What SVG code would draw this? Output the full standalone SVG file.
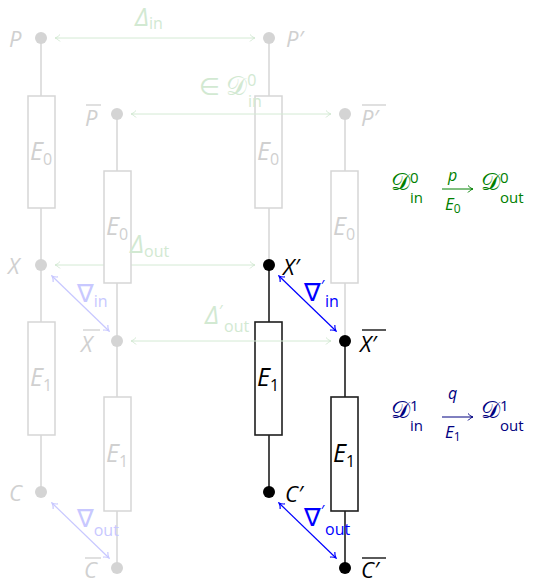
<svg xmlns="http://www.w3.org/2000/svg" width="538" height="579" viewBox="0 0 538 579">
<defs>
<style>
.fl{stroke:#d6d6d6;stroke-width:1.5;fill:none}
.fb{stroke:#d6d6d6;stroke-width:1.5;fill:#fff}
.bl{stroke:#1f1f1f;stroke-width:1.6;fill:none}
.bb{stroke:#1f1f1f;stroke-width:1.6;fill:#fff}
.fd{fill:#d4d4d4}
.bd{fill:#000}
.ga{stroke:#d4ead4;stroke-width:1;fill:none;marker-start:url(#hg);marker-end:url(#hg)}
.fba{stroke:#c8c8ff;stroke-width:1.2;fill:none;marker-start:url(#hfb);marker-end:url(#hfb)}
.ba{stroke:#0000ff;stroke-width:1.2;fill:none;marker-start:url(#hb);marker-end:url(#hb)}
text{font-family:"Open Sans","DejaVu Sans",sans-serif}
.lab{font-size:22px;font-style:italic}
.el{font-size:25px;font-style:italic}
.sub{font-size:16px;font-style:normal}
.dl{font-size:25px;font-style:italic}
.nb{font-size:25px;font-style:normal}
.ft{fill:#d0d0d0}
.bt{fill:#000}
.gt{fill:#d2e9d2}
.fbt{fill:#c8c8ff}
.blt{fill:#0000ff}
.bar{stroke-width:1.3}
</style>
<marker id="hg" viewBox="-6 -5 7 10" refX="0" refY="0" markerWidth="7" markerHeight="10" markerUnits="userSpaceOnUse" orient="auto-start-reverse"><path d="M-5,-3.5 C-3,-1.2 -1,-0.3 0,0 C-1,0.3 -3,1.2 -5,3.5" fill="none" stroke="#d4ead4" stroke-width="1"/></marker>
<marker id="hfb" viewBox="-6 -5 7 10" refX="0" refY="0" markerWidth="7" markerHeight="10" markerUnits="userSpaceOnUse" orient="auto-start-reverse"><path d="M-5,-3.5 C-3,-1.2 -1,-0.3 0,0 C-1,0.3 -3,1.2 -5,3.5" fill="none" stroke="#c8c8ff" stroke-width="1.2"/></marker>
<marker id="hb" viewBox="-6 -5 7 10" refX="0" refY="0" markerWidth="7" markerHeight="10" markerUnits="userSpaceOnUse" orient="auto-start-reverse"><path d="M-5,-3.5 C-3,-1.2 -1,-0.3 0,0 C-1,0.3 -3,1.2 -5,3.5" fill="none" stroke="#0000ff" stroke-width="1.2"/></marker>
<marker id="hgr" viewBox="-6 -5 7 10" refX="0" refY="0" markerWidth="7" markerHeight="10" markerUnits="userSpaceOnUse" orient="auto"><path d="M-5,-3.5 C-3,-1.2 -1,-0.3 0,0 C-1,0.3 -3,1.2 -5,3.5" fill="none" stroke="#008000" stroke-width="1"/></marker>
<marker id="hnv" viewBox="-6 -5 7 10" refX="0" refY="0" markerWidth="7" markerHeight="10" markerUnits="userSpaceOnUse" orient="auto"><path d="M-5,-3.5 C-3,-1.2 -1,-0.3 0,0 C-1,0.3 -3,1.2 -5,3.5" fill="none" stroke="#000080" stroke-width="1"/></marker>
</defs>
<rect width="538" height="579" fill="#fff"/>

<g id="connectors-layer1">
<line class="fl" x1="41" y1="38" x2="41" y2="492"/>
<line class="fl" x1="269" y1="38" x2="269" y2="265"/>
<line class="bl" x1="269" y1="265" x2="269" y2="492"/>
</g>
<g id="E0-a"><rect class="fb" x="28" y="96" width="27" height="112"/><text class="el ft" x="30" y="160">E<tspan class="sub" dy="5">0</tspan></text></g>
<g id="E1-a"><rect class="fb" x="28" y="322" width="27" height="113"/><text class="el ft" x="30" y="386">E<tspan class="sub" dy="5">1</tspan></text></g>
<g id="E0-c"><rect class="fb" x="255" y="96" width="27" height="112"/><text class="el ft" x="257" y="160">E<tspan class="sub" dy="5">0</tspan></text></g>
<g id="E1-c"><rect class="bb" x="255" y="322" width="27" height="113"/><text class="el bt" x="257" y="386">E<tspan class="sub" dy="5">1</tspan></text></g>

<g id="arrows-layer1">
<line class="ga" x1="55" y1="38" x2="255" y2="38"/>
<line class="ga" x1="55" y1="265" x2="255" y2="265"/>
<line class="fba" x1="52" y1="276" x2="109" y2="331"/>
<line class="fba" x1="52" y1="503" x2="109" y2="558"/>
<line class="ba" x1="279" y1="276" x2="336" y2="331"/>
<line class="ba" x1="279" y1="503" x2="336" y2="558"/>
</g>

<g id="connectors-layer2">
<line class="fl" x1="117" y1="114" x2="117" y2="568"/>
<line class="fl" x1="345" y1="114" x2="345" y2="341"/>
<line class="bl" x1="345" y1="341" x2="345" y2="568"/>
</g>
<g id="E0-b"><rect class="fb" x="104" y="171" width="27" height="112"/><text class="el ft" x="106" y="235">E<tspan class="sub" dy="5">0</tspan></text></g>
<g id="E1-b"><rect class="fb" x="104" y="397" width="27" height="114"/><text class="el ft" x="106" y="462">E<tspan class="sub" dy="5">1</tspan></text></g>
<g id="E0-d"><rect class="fb" x="331" y="171" width="27" height="112"/><text class="el ft" x="333" y="235">E<tspan class="sub" dy="5">0</tspan></text></g>
<g id="E1-d"><rect class="bb" x="331" y="397" width="27" height="114"/><text class="el bt" x="333" y="462">E<tspan class="sub" dy="5">1</tspan></text></g>

<g id="arrows-layer2">
<line class="ga" x1="131" y1="114" x2="331" y2="114"/>
<line class="ga" x1="131" y1="341" x2="331" y2="341"/>
</g>

<g id="arrow-labels">
<text class="gt" x="135" y="26"><tspan class="dl">Δ</tspan><tspan class="sub" dy="3">in</tspan></text>
<text class="gt" x="199" y="95"><tspan font-size="24">∈ </tspan><tspan font-size="26">𝒟</tspan><tspan class="sub" dy="-9">0</tspan><tspan class="sub" x="248" dy="21">in</tspan></text>
<text class="gt" x="130" y="253"><tspan class="dl">Δ</tspan><tspan class="sub" dy="4">out</tspan></text>
<text class="gt" x="205" y="324"><tspan class="dl">Δ</tspan><tspan class="sub" dy="-7">′</tspan><tspan class="sub" x="224" dy="15">out</tspan></text>
<text class="fbt" x="77" y="302"><tspan class="nb">∇</tspan><tspan class="sub" dy="5">in</tspan></text>
<text class="fbt" x="77" y="527"><tspan class="nb">∇</tspan><tspan class="sub" dy="9">out</tspan></text>
<text class="blt" x="304" y="301"><tspan class="nb">∇</tspan><tspan class="sub" dy="-9">′</tspan><tspan class="sub" x="325" dy="15">in</tspan></text>
<text class="blt" x="304" y="526"><tspan class="nb">∇</tspan><tspan class="sub" dy="-9">′</tspan><tspan class="sub" x="325" dy="18">out</tspan></text>
</g>

<g id="P"><circle class="fd" cx="41" cy="38" r="6"/><text class="lab ft" x="9" y="47">P</text></g>
<g id="P-prime"><circle class="fd" cx="269" cy="38" r="6"/><text class="lab ft" x="286" y="47">P′</text></g>
<g id="P-bar"><circle class="fd" cx="117" cy="114" r="6"/><line class="bar" stroke="#d0d0d0" x1="86" y1="105" x2="101" y2="105"/><text class="lab ft" x="85" y="126">P</text></g>
<g id="P-bar-prime"><circle class="fd" cx="345" cy="114" r="6"/><line class="bar" stroke="#d0d0d0" x1="362" y1="105" x2="386" y2="105"/><text class="lab ft" x="361" y="126">P′</text></g>
<g id="X"><circle class="fd" cx="41" cy="265" r="6"/><text class="lab ft" x="8" y="274">X</text></g>
<g id="X-prime"><circle class="bd" cx="269" cy="265" r="6"/><text class="lab bt" x="283" y="275">X′</text></g>
<g id="X-bar"><circle class="fd" cx="117" cy="341" r="6"/><line class="bar" stroke="#d0d0d0" x1="83" y1="330" x2="100" y2="330"/><text class="lab ft" x="81" y="352">X</text></g>
<g id="X-bar-prime"><circle class="bd" cx="345" cy="341" r="6"/><line class="bar" stroke="#000" x1="362" y1="330" x2="386" y2="330"/><text class="lab bt" x="360" y="352">X′</text></g>
<g id="C"><circle class="fd" cx="41" cy="492" r="6"/><text class="lab ft" x="9" y="501">C</text></g>
<g id="C-prime"><circle class="bd" cx="269" cy="492" r="6"/><text class="lab bt" x="285" y="502">C′</text></g>
<g id="C-bar"><circle class="fd" cx="117" cy="568" r="6"/><line class="bar" stroke="#d0d0d0" x1="85" y1="558" x2="101" y2="558"/><text class="lab ft" x="84" y="578">C</text></g>
<g id="C-bar-prime"><circle class="bd" cx="345" cy="568" r="6"/><line class="bar" stroke="#000" x1="362" y1="558" x2="386" y2="558"/><text class="lab bt" x="361" y="578">C′</text></g>

<g id="formula-0" fill="#008000">
<text x="391" y="190"><tspan font-size="24">𝒟</tspan><tspan font-size="15" dy="-7">0</tspan><tspan font-size="15" x="410" dy="20">in</tspan></text>
<text x="448" y="181" font-size="16" font-style="italic">p</text>
<line x1="442" y1="189" x2="473" y2="189" stroke="#008000" stroke-width="1" marker-end="url(#hgr)"/>
<text x="445" y="210" font-size="17" font-style="italic">E<tspan font-size="12" font-style="normal" dy="3">0</tspan></text>
<text x="481" y="190"><tspan font-size="24">𝒟</tspan><tspan font-size="15" dy="-7">0</tspan><tspan font-size="15" x="500" dy="20">out</tspan></text>
</g>
<g id="formula-1" fill="#000080">
<text x="391" y="418"><tspan font-size="24">𝒟</tspan><tspan font-size="15" dy="-7">1</tspan><tspan font-size="15" x="410" dy="20">in</tspan></text>
<text x="448" y="399" font-size="16" font-style="italic">q</text>
<line x1="442" y1="417" x2="473" y2="417" stroke="#000080" stroke-width="1" marker-end="url(#hnv)"/>
<text x="445" y="438" font-size="17" font-style="italic">E<tspan font-size="12" font-style="normal" dy="3">1</tspan></text>
<text x="481" y="418"><tspan font-size="24">𝒟</tspan><tspan font-size="15" dy="-7">1</tspan><tspan font-size="15" x="500" dy="20">out</tspan></text>
</g>
</svg>
